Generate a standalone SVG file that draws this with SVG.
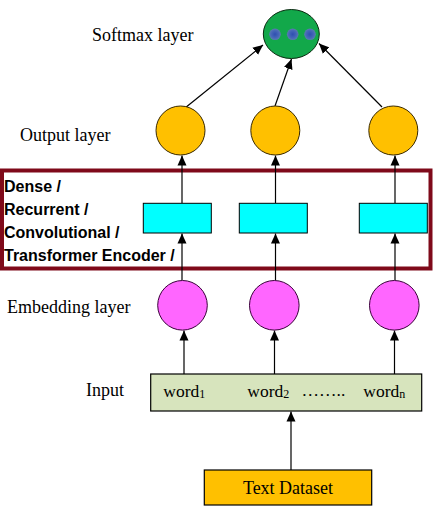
<svg xmlns="http://www.w3.org/2000/svg" width="436" height="515" viewBox="0 0 436 515">
<defs>
<marker id="ah" viewBox="0 0 10 10" refX="10" refY="5" markerWidth="10" markerHeight="10" markerUnits="userSpaceOnUse" orient="auto">
<path d="M0,0.5 L10,5 L0,9.5 Z" fill="#000"/>
</marker>
<radialGradient id="dot"><stop offset="0" stop-color="#2f4fb0"/><stop offset="0.6" stop-color="#4465b8"/><stop offset="1" stop-color="#5a7bb0"/></radialGradient>
</defs>
<style>
.lbl{font-family:"Liberation Serif","Times New Roman",serif;font-size:18px;fill:#000}
.wd{font-family:"Liberation Serif","Times New Roman",serif;font-size:17.5px;fill:#000}
.bl{font-family:"Liberation Sans",Arial,sans-serif;font-size:16px;font-weight:bold;fill:#000}
.ln{stroke:#000;stroke-width:1.2;fill:none}
.out{fill:#ffc000;stroke:#3a2a00;stroke-width:1}
.emb{fill:#ff66ff;stroke:#3a003a;stroke-width:1}
.hid{fill:#00ffff;stroke:#000;stroke-width:1}
</style>
<rect width="436" height="515" fill="#fff"/>

<g id="labels">
<text class="lbl" x="92" y="41">Softmax layer</text>
<text class="lbl" x="20" y="141">Output layer</text>
<text class="lbl" x="7" y="313">Embedding layer</text>
<text class="lbl" x="86" y="396">Input</text>
</g>

<g id="layer-box">
<rect x="2" y="170.5" width="428.5" height="98" fill="none" stroke="#7f0a1a" stroke-width="4"/>
<text class="bl" x="4" y="192">Dense /</text>
<text class="bl" x="4" y="215">Recurrent /</text>
<text class="bl" x="4" y="238">Convolutional /</text>
<text class="bl" x="4" y="261">Transformer Encoder /</text>
</g>

<g id="connectors">
<line class="ln" x1="185" y1="108" x2="263" y2="45" marker-end="url(#ah)"/>
<line class="ln" x1="275" y1="106" x2="291.5" y2="59" marker-end="url(#ah)"/>
<line class="ln" x1="382" y1="107" x2="319" y2="43.5" marker-end="url(#ah)"/>
<line class="ln" x1="182" y1="203" x2="182" y2="155.5" marker-end="url(#ah)"/>
<line class="ln" x1="275.5" y1="203" x2="275.5" y2="155.5" marker-end="url(#ah)"/>
<line class="ln" x1="395" y1="203" x2="395" y2="155.5" marker-end="url(#ah)"/>
<line class="ln" x1="182" y1="280" x2="182" y2="233.5" marker-end="url(#ah)"/>
<line class="ln" x1="275.5" y1="280" x2="275.5" y2="233.5" marker-end="url(#ah)"/>
<line class="ln" x1="395" y1="280" x2="395" y2="233.5" marker-end="url(#ah)"/>
<line class="ln" x1="184" y1="374" x2="184" y2="330.5" marker-end="url(#ah)"/>
<line class="ln" x1="274.5" y1="374" x2="274.5" y2="330.5" marker-end="url(#ah)"/>
<line class="ln" x1="394.5" y1="374" x2="394.5" y2="330.5" marker-end="url(#ah)"/>
<line class="ln" x1="291" y1="470" x2="291" y2="411.5" marker-end="url(#ah)"/>
</g>

<g id="softmax">
<ellipse cx="291.3" cy="34" rx="28" ry="24.5" fill="#12a84a" stroke="#0a2a10" stroke-width="1"/>
<circle cx="275" cy="34.3" r="5.8" fill="url(#dot)"/>
<circle cx="292.7" cy="34.3" r="5.8" fill="url(#dot)"/>
<circle cx="310" cy="34.3" r="5.8" fill="url(#dot)"/>
</g>

<g id="output-1"><circle class="out" cx="180.5" cy="130.5" r="24.5"/></g>
<g id="output-2"><circle class="out" cx="275.3" cy="130.5" r="24.5"/></g>
<g id="output-3"><circle class="out" cx="393.3" cy="130.5" r="24.5"/></g>

<g id="hidden-1"><rect class="hid" x="143.3" y="203.3" width="68" height="29.7"/></g>
<g id="hidden-2"><rect class="hid" x="239.3" y="203.3" width="68" height="29.7"/></g>
<g id="hidden-3"><rect class="hid" x="359.3" y="203.3" width="68" height="29.7"/></g>

<g id="embedding-1"><circle class="emb" cx="182.5" cy="305.3" r="24.8"/></g>
<g id="embedding-2"><circle class="emb" cx="274.3" cy="305.3" r="24.8"/></g>
<g id="embedding-3"><circle class="emb" cx="394.3" cy="305.3" r="24.8"/></g>

<g id="input">
<rect x="150.7" y="374" width="271" height="37" fill="#d7e4bd" stroke="#000" stroke-width="1.2"/>
<text class="wd" x="163.3" y="397">word<tspan font-size="12" dy="1">1</tspan></text>
<text class="wd" x="247.3" y="397">word<tspan font-size="12" dy="1">2</tspan></text>
<text class="wd" x="301.5" y="396">……..</text>
<text class="wd" x="363.3" y="397">word<tspan font-size="12" dy="1">n</tspan></text>
</g>

<g id="text-dataset">
<rect x="204.3" y="470" width="167.4" height="35" fill="#ffc000" stroke="#000" stroke-width="1.2"/>
<text class="lbl" x="288" y="494" text-anchor="middle">Text Dataset</text>
</g>
</svg>
